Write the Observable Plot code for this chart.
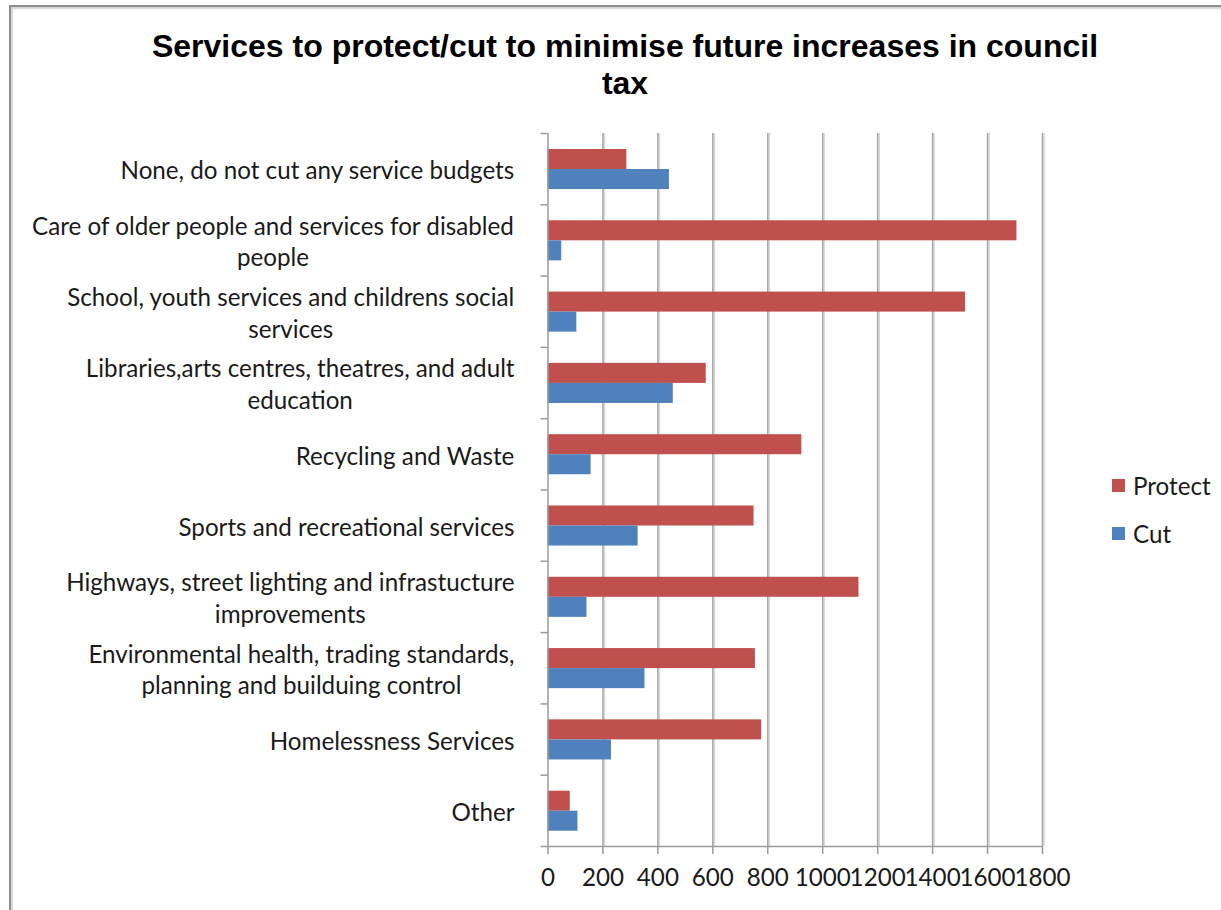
<!DOCTYPE html>
<html>
<head>
<meta charset="utf-8">
<script src="https://cdn.jsdelivr.net/npm/d3@7"></script>
<script src="https://cdn.jsdelivr.net/npm/@observablehq/plot@0.6"></script>
<style>
  body { margin: 0; background: #fff; }
  #wrap { position: relative; width: 1221px; height: 910px; overflow: hidden; background: #fff; }
  #frame { position: absolute; left: 9px; top: 5px; width: 1400px; height: 1100px;
           border-left: 2px solid #8c8c8c; border-top: 2px solid #8c8c8c;
           box-shadow: inset 2px 2px 2px #d4d4d4; }
  #title { position: absolute; left: 0; top: 28px; width: 1250px; text-align: center;
           font: bold 32px "Liberation Sans", Arial, sans-serif; line-height: 37px;
           color: #000; white-space: pre-line; }
  #chart { position: absolute; left: 0; top: 110px; }
  .leg { position: absolute; left: 1112px; display: flex; align-items: center; height: 30px;
         font-family: Lato, sans-serif; color: #1a1a1a; }
  .leg i { display: inline-block; width: 13px; height: 13px; margin-right: 8px; }
</style>
</head>
<body>
<div id="wrap">
  <div id="frame"></div>
  <div id="title"></div>
  <div id="chart"></div>
  <div id="legend"></div>
</div>
<script>
const title = "Services to protect/cut to minimise future increases in council\ntax";
const categories = [
  "None, do not cut any service budgets",
  "Care of older people and services for disabled\npeople",
  "School, youth services and childrens social\nservices",
  "Libraries,arts centres, theatres, and adult\neducation",
  "Recycling and Waste",
  "Sports and recreational services",
  "Highways, street lighting and infrastucture\nimprovements",
  "Environmental health, trading standards,\nplanning and builduing control",
  "Homelessness Services",
  "Other"
];
const series = ["Protect", "Cut"];
const protect = [287, 1707, 1520, 576, 924, 750, 1132, 755, 778, 81];
const cut = [442, 50, 105, 456, 157, 328, 142, 353, 231, 109];
const xTicks = [0, 200, 400, 600, 800, 1000, 1200, 1400, 1600, 1800];
const colors = ["#C0504D", "#4F81BD"];

document.getElementById("title").textContent = title;

// font sizing: match the label font width of the original
const FONT = "Lato";
const cnv = document.createElement("canvas").getContext("2d");
function measure(t, fs) { cnv.font = `${fs}px ${FONT}`; return cnv.measureText(t).width; }
const fs = Math.round(100 * 394 / measure(categories[0], 100) * 10) / 10;
const lineGap = 31.7;

const rows = [];
categories.forEach((c, i) => {
  rows.push({i, series: "Protect", value: protect[i]});
  rows.push({i, series: "Cut", value: cut[i]});
});
const off = {Protect: [0.224, 0.505], Cut: [0.505, 0.786]};

const labelMarks = categories.map((c, i) => {
  const w = Math.max(...c.split("\n").map(t => measure(t, fs)));
  return Plot.text([{c, i}], {
    x: () => 0, y: d => d.i + 0.5, text: "c",
    textAnchor: "middle", lineAnchor: "middle",
    lineHeight: lineGap / fs, dx: -(33.5 + w / 2),
    fill: "#1a1a1a", fontSize: fs
  });
});

const chart = Plot.plot({
  width: 1221,
  height: 800,
  marginTop: 23,
  marginBottom: 64,
  marginLeft: 547.5,
  marginRight: 179,
  style: {fontFamily: FONT, fontSize: fs + "px", color: "#1a1a1a", background: "transparent"},
  x: {domain: [0, 1800]},
  y: {domain: [0, 10], reverse: true},
  color: {domain: series, range: colors},
  marks: [
    Plot.ruleX(xTicks.slice(1), {stroke: "#d8d8d8", strokeWidth: 1.5, dx: 1.5}),
    Plot.ruleX(xTicks.slice(1), {stroke: "#a6a6a6", strokeWidth: 1.5}),
    Plot.rect(rows, {
      x1: () => 0, x2: d => d.value,
      y1: d => d.i + off[d.series][0], y2: d => d.i + off[d.series][1],
      fill: "series"
    }),
    Plot.axisY({ticks: d3.range(11), tickFormat: () => "", tickSize: 7, stroke: "#9a9a9a", strokeWidth: 1.5}),
    Plot.axisX({ticks: xTicks, tickSize: 8, tickPadding: 14.6, stroke: "#9a9a9a", strokeWidth: 1.5,
                fontSize: fs, fill: "#1a1a1a", tickFormat: d => String(d)}),
    Plot.ruleX([0], {stroke: "#9a9a9a", strokeWidth: 1.5}),
    Plot.ruleY([10], {stroke: "#9a9a9a", strokeWidth: 1.5}),
    ...labelMarks
  ]
});
document.getElementById("chart").appendChild(chart);

// legend
const leg = document.getElementById("legend");
series.forEach((s, k) => {
  const d = document.createElement("div");
  d.className = "leg";
  d.style.top = (k === 0 ? 470 : 518) + "px";
  d.style.fontSize = fs + "px";
  d.innerHTML = `<i style="background:${colors[k]}"></i><span>${s}</span>`;
  leg.appendChild(d);
});
</script>
</body>
</html>
